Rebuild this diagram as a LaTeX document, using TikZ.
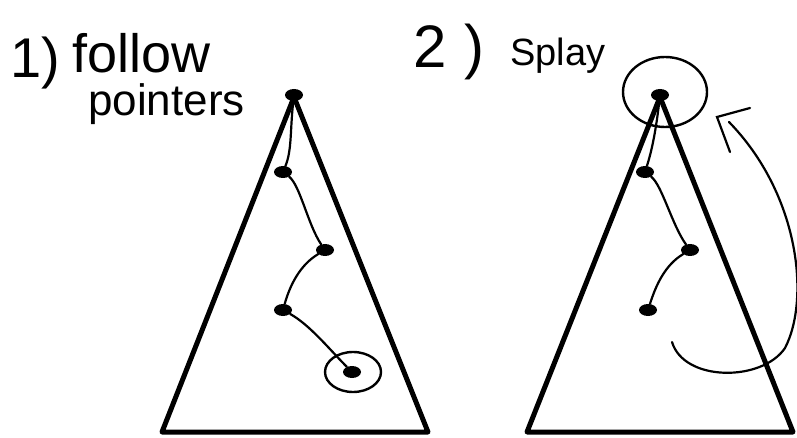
\documentclass[tikz,border=0pt]{standalone}
\usepackage{fontspec}
\setmainfont{Liberation Sans}
\usetikzlibrary{shapes.geometric}
\begin{document}
\begin{tikzpicture}[x=1pt,y=-1pt,
  tri/.style={line width=5pt,line join=round},
  blob/.style={ellipse,fill=black,inner sep=0pt,minimum width=18pt,minimum height=12pt},
  ptr/.style={line width=2.2pt,line cap=round},
  ring/.style={draw,ellipse,line width=2.4pt,inner sep=0pt},
  hand/.style={anchor=base west,inner sep=0pt}]
\useasboundingbox (0,0) rectangle (797,438);
% step 1
\node[hand,font=\fontsize{56}{56}\selectfont] (n1) at (10,78) {1)};
\node[hand,font=\fontsize{54}{54}\selectfont] (follow) at (72,73) {follow};
\node[hand,font=\fontsize{44}{44}\selectfont] (pointers) at (88,116) {pointers};
\draw[tri] (294,97) -- (428,432) -- (162,432) -- cycle;
\foreach \nm/\px/\py in {a1/294/95,a2/283/172,a3/325/250,a4/283/310,a5/352/372}
  \node[blob] (\nm) at (\px,\py) {};
\node[ring,minimum width=56pt,minimum height=40pt] (r1) at (353,372) {};
\draw[ptr] (a1) .. controls (290,130) and (292,150) .. (a2);
\draw[ptr] (a2) .. controls (300,185) and (308,225) .. (a3);
\draw[ptr] (a3) .. controls (300,265) and (290,285) .. (a4);
\draw[ptr] (a4) .. controls (310,325) and (330,350) .. (a5);
% step 2
\node[hand,font=\fontsize{60}{60}\selectfont] (n2) at (413,68) {2\hspace{18pt})};
\node[hand,font=\fontsize{38}{38}\selectfont] (splay) at (510,66) {Splay};
\draw[tri] (660,97) -- (793,432) -- (527,432) -- cycle;
\foreach \nm/\px/\py in {b1/660/95,b2/645/172,b3/690/250,b4/648/310}
  \node[blob] (\nm) at (\px,\py) {};
\node[ring,minimum width=84pt,minimum height=70pt] (r2) at (665,92) {};
\draw[ptr] (b1) .. controls (656,130) and (652,150) .. (b2);
\draw[ptr] (b2) .. controls (662,185) and (672,225) .. (b3);
\draw[ptr] (b3) .. controls (665,265) and (656,285) .. (b4);
\coordinate (s) at (672,342);
\coordinate (e) at (729,122);
\coordinate (tip) at (717,117);
\draw[ptr] (s) .. controls (684,382) and (762,382) .. (785,348)
  .. controls (810,300) and (800,195) .. (e);
\draw[ptr] (750,108) -- (tip) -- (730,152);
\end{tikzpicture}
\end{document}
